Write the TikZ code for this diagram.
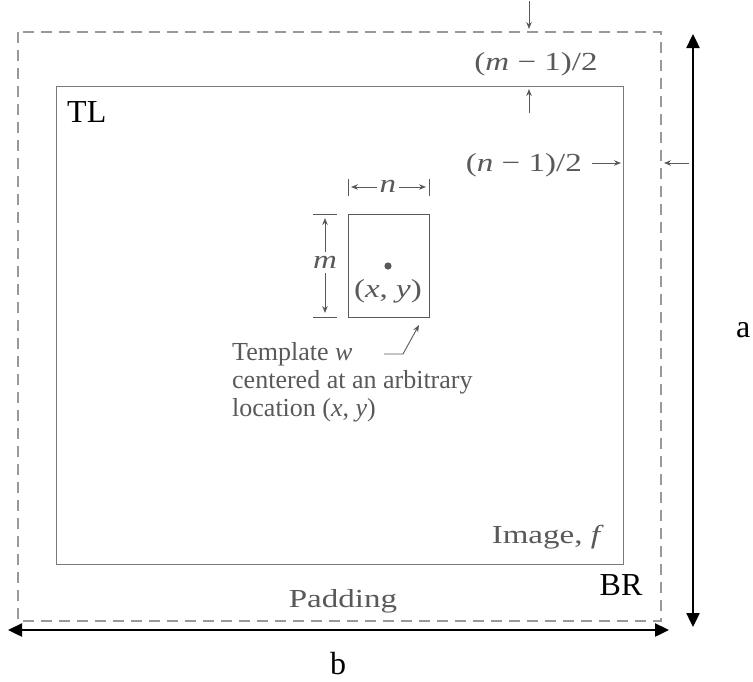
\documentclass[tikz,border=0pt]{standalone}
\usepackage{fontspec}
\setmainfont{Liberation Serif}
\newfontfamily\bookfont[FakeStretch=1.27]{Liberation Serif}
\usetikzlibrary{arrows.meta,positioning}
\definecolor{inkgray}{gray}{0.35}
\definecolor{dashgray}{gray}{0.6}
\tikzset{
  booktxt/.style={text=inkgray,font=\bookfont\fontsize{26}{31}\selectfont,inner sep=0pt},
  notetxt/.style={text=inkgray,font=\fontsize{26}{28}\selectfont,inner sep=0pt},
  bigtxt/.style={font=\fontsize{32}{35}\selectfont,inner sep=0pt},
  dimarrow/.style={draw=inkgray,line width=0.9pt,-{Stealth[length=7pt,width=5.5pt]}},
  bigarrow/.style={line width=2.4pt,{Triangle[length=14pt,width=13pt]}-{Triangle[length=14pt,width=13pt]}},
  tick/.style={draw=inkgray,line width=0.9pt}
}
\begin{document}
\begin{tikzpicture}[x=1pt,y=-1pt]
		\useasboundingbox (0,0) rectangle (753,681);
		%Padding frame and image
		\draw[dashgray,line width=1.3pt,dash pattern=on 11pt off 7pt] (18,32) rectangle (661,621);
		\draw[inkgray!80,line width=1pt] (56,86) rectangle (623,564);
		\node[bigtxt,anchor=base west] (tl) at (67,122) {TL};
		\node[bigtxt,anchor=base] (br) at (621,595) {BR};
		\node[booktxt,anchor=base east] (imgf) at (604,543) {Image, \textit{f}};
		\node[booktxt,anchor=base] (pad) at (343,607) {Padding};
		%Padding widths
		\coordinate (mtop) at (529,1);
		\coordinate (mdash) at (529,29);
		\coordinate (mlow) at (529,113);
		\coordinate (minner) at (529,89);
		\draw[dimarrow] (mtop)--(mdash);
		\draw[dimarrow] (mlow)--(minner);
		\node[booktxt,anchor=base] (mhalf) at (536,70) {(\textit{m} − 1)/2};
		\node[booktxt,anchor=base east] (nhalf) at (582,171) {(\textit{n} − 1)/2};
		\coordinate (ninner) at (621,163);
		\coordinate (nright) at (689,163);
		\coordinate (ndash) at (664,163);
		\draw[dimarrow] (592,163)--(ninner);
		\draw[dimarrow] (nright)--(ndash);
		%Template w
		\draw[inkgray,line width=1pt] (348,214) rectangle (429,317);
		\fill[inkgray] (388,266) circle (3.6pt);
		\node[booktxt] (xy) at (388,291) {(\textit{x}, \textit{y})};
		\draw[tick] (313,214)--(337,214);
		\draw[tick] (313,317)--(337,317);
		\node[booktxt] (m) at (325,262) {\textit{m}};
		\draw[dimarrow] (325,252)--(325,218);
		\draw[dimarrow] (325,273)--(325,313);
		\draw[tick] (348,179)--(348,196);
		\draw[tick] (429,179)--(429,196);
		\node[booktxt] (n) at (388,186) {\textit{n}};
		\draw[dimarrow] (n.west)++(-3,1)--(351,187);
		\draw[dimarrow] (n.east)++(3,1)--(426,187);
		\node[notetxt,anchor=base west,align=left] (tmpl) at (232,416)
		  {Template \textit{w}\\centered at an arbitrary\\location (\textit{x}, \textit{y})};
		\coordinate (hookstart) at (384,354);
		\coordinate (hook) at (403,354);
		\coordinate (hooktip) at (419,325);
		\draw[dimarrow] (hookstart)--(hook)--(hooktip);
		%Size a and b
		\draw[bigarrow] (693,34)--(693,627) node[bigtxt,midway,right=42pt] (a) {a};
		\draw[bigarrow] (8,630)--(669,630);
		\node[bigtxt,anchor=base] (b) at (338,674) {b};
		\end{tikzpicture}
\end{document}
